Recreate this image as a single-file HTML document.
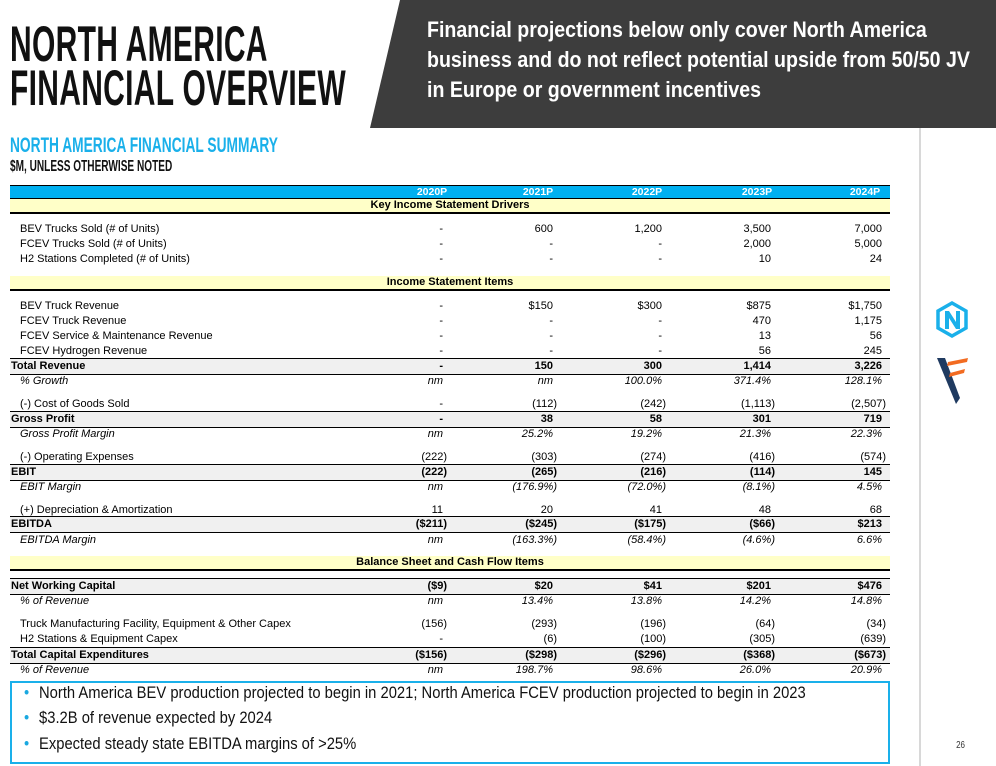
<!DOCTYPE html>
<html><head><meta charset="utf-8">
<style>
body{margin:0;width:996px;height:766px;position:relative;background:#fff;overflow:hidden;font-family:"Liberation Sans",sans-serif;}
.abs{position:absolute;}
.title{left:10px;font-family:"Liberation Sans Narrow","Liberation Sans",sans-serif;font-weight:bold;font-size:50px;line-height:44px;color:#111;transform:scaleX(0.6);transform-origin:left top;white-space:nowrap;letter-spacing:0.5px}
.bt{left:427px;color:#fff;font-weight:bold;font-size:22px;white-space:nowrap;transform:scaleX(0.89);transform-origin:left top;line-height:30px}
.row{position:absolute;left:10px;width:880px;height:15px;font-size:11px;line-height:15px;color:#000;}
.row .lab{position:absolute;left:10px;top:0;white-space:nowrap}
.row .v{position:absolute;top:0;text-align:right;width:90px;white-space:nowrap}
.bold .lab{left:1px}
.bold{font-weight:bold;background:#f0f0f0;border-top:1px solid #000;border-bottom:1px solid #000;}
.ital{font-style:italic}
.band{position:absolute;left:10px;width:880px;height:13px;background:#ffffc8;border-bottom:2px solid #000;font-size:11px;font-weight:bold;text-align:center;line-height:13px}
.bul{left:24px;font-size:16.5px;color:#111;white-space:nowrap;transform:scaleX(0.895);transform-origin:left top}
.bul span{color:#1aa8e0;margin-right:11px}
</style></head><body>
<div class="abs title" style="top:22px">NORTH AMERICA<br>FINANCIAL OVERVIEW</div>
<svg class="abs" style="left:0;top:0" width="996" height="130"><polygon points="400,0 996,0 996,128 370,128" fill="#3d3d3d"/></svg>
<div class="abs bt" style="top:15px">Financial projections below only cover North America<br>business and do not reflect potential upside from 50/50 JV<br>in Europe or government incentives</div>
<div class="abs" style="left:10px;top:134px;font-family:'Liberation Sans Narrow','Liberation Sans',sans-serif;font-weight:bold;font-size:21px;color:#1ab0ea;transform:scaleX(0.655);transform-origin:left top;white-space:nowrap">NORTH AMERICA FINANCIAL SUMMARY</div>
<div class="abs" style="left:10px;top:158px;font-family:'Liberation Sans Narrow','Liberation Sans',sans-serif;font-weight:bold;font-size:16px;color:#111;transform:scaleX(0.63);transform-origin:left top;white-space:nowrap">$M, UNLESS OTHERWISE NOTED</div>
<div class="abs" style="left:919px;top:128px;width:2px;height:638px;background:#d8d8d8"></div>
<svg class="abs" style="left:935px;top:300px" width="40" height="110">
<polygon points="17,3 31,11 31,28 17,36 3,28 3,11" fill="none" stroke="#1ab0ea" stroke-width="3.5"/>
<path d="M10,29 V11 H14 L21,22 V11 H25 V29 H21 L14,18 V29 Z" fill="#1ab0ea"/>
<polygon points="2,58 10,58 25,98 21,104" fill="#1f3a60"/>
<polygon points="13,62 33,58 32,62 12,66" fill="#f26b21"/><polygon points="15,73 30,69 29,73 14,77" fill="#f26b21"/>
</svg>
<div class="abs" style="left:955px;top:740px;font-size:10px;color:#333;transform:scaleX(0.8)">26</div>
<div id="tbl"></div>
<div class="abs" style="left:10px;top:681px;width:876px;height:79px;border:2px solid #1ab0ea"></div>
<div class="abs bul" style="top:684px"><span>•</span>North America BEV production projected to begin in 2021; North America FCEV production projected to begin in 2023</div>
<div class="abs bul" style="top:709px"><span>•</span>$3.2B of revenue expected by 2024</div>
<div class="abs bul" style="top:735px"><span>•</span>Expected steady state EBITDA margins of &gt;25%</div>
<script>
const years=["2020P","2021P","2022P","2023P","2024P"];
const bands=[["Key Income Statement Drivers",199],["Income Statement Items",276],["Balance Sheet and Cash Flow Items",556]];
const rowLabels=["BEV Trucks Sold (# of Units)","FCEV Trucks Sold (# of Units)","H2 Stations Completed (# of Units)","BEV Truck Revenue","FCEV Truck Revenue","FCEV Service & Maintenance Revenue","FCEV Hydrogen Revenue","Total Revenue","% Growth","(-) Cost of Goods Sold","Gross Profit","Gross Profit Margin","(-) Operating Expenses","EBIT","EBIT Margin","(+) Depreciation & Amortization","EBITDA","EBITDA Margin","Net Working Capital","% of Revenue","Truck Manufacturing Facility, Equipment & Other Capex","H2 Stations & Equipment Capex","Total Capital Expenditures","% of Revenue"];
const rowTops=[222,237,252,299,314,329,344,359,374,397,412,427,450,465,480,503,517,533,579,594,617,632,648,663];
const rowStyle=["","","","","","","","b","i","","b","i","","b","i","","b","i","b","i","","","b","i"];
const rowValues=[
["-","600","1,200","3,500","7,000"],["-","-","-","2,000","5,000"],["-","-","-","10","24"],
["-","$150","$300","$875","$1,750"],["-","-","-","470","1,175"],["-","-","-","13","56"],["-","-","-","56","245"],
["-","150","300","1,414","3,226"],["nm","nm","100.0%","371.4%","128.1%"],
["-","(112)","(242)","(1,113)","(2,507)"],["-","38","58","301","719"],["nm","25.2%","19.2%","21.3%","22.3%"],
["(222)","(303)","(274)","(416)","(574)"],["(222)","(265)","(216)","(114)","145"],["nm","(176.9%)","(72.0%)","(8.1%)","4.5%"],
["11","20","41","48","68"],["($211)","($245)","($175)","($66)","$213"],["nm","(163.3%)","(58.4%)","(4.6%)","6.6%"],
["($9)","$20","$41","$201","$476"],["nm","13.4%","13.8%","14.2%","14.8%"],
["(156)","(293)","(196)","(64)","(34)"],["-","(6)","(100)","(305)","(639)"],["($156)","($298)","($296)","($368)","($673)"],["nm","198.7%","98.6%","26.0%","20.9%"]];
const colRight=[447,557,666,775,886];
const hdrCenter=[432,538,647,757,865];
const tbl=document.getElementById('tbl');
const hdr=document.createElement('div');


hdr.style.cssText='position:absolute;left:10px;top:185px;width:880px;height:12px;background:#00b0f0;border-top:1px solid #000;border-bottom:1px solid #000;';
tbl.appendChild(hdr);
years.forEach((y,i)=>{const d=document.createElement('div');


d.textContent=y;d.style.cssText='position:absolute;top:0;left:'+(hdrCenter[i]-10-40)+'px;width:80px;text-align:center;color:#fff;font-weight:bold;font-size:10.5px;line-height:12px';hdr.appendChild(d);});
bands.forEach(b=>{const d=document.createElement('div');d.className='band';


d.style.top=b[1]+'px';d.textContent=b[0];tbl.appendChild(d);});
rowLabels.forEach((l,r)=>{const d=document.createElement('div');
d.className='row'+(rowStyle[r]=='b'?' bold':'')+(rowStyle[r]=='i'?' ital':'');


d.style.top=(rowTops[r]-(rowStyle[r]=='b'?1:0))+'px';
const s=document.createElement('div');s.className='lab';s.textContent=l;d.appendChild(s);
rowValues[r].forEach((v,c)=>{const e=document.createElement('div');e.className='v';


e.textContent=v;const pad=v.endsWith(')')?0:4;e.style.left=(colRight[c]-10-90-pad)+'px';d.appendChild(e);});
tbl.appendChild(d);});
</script>
</body></html>
